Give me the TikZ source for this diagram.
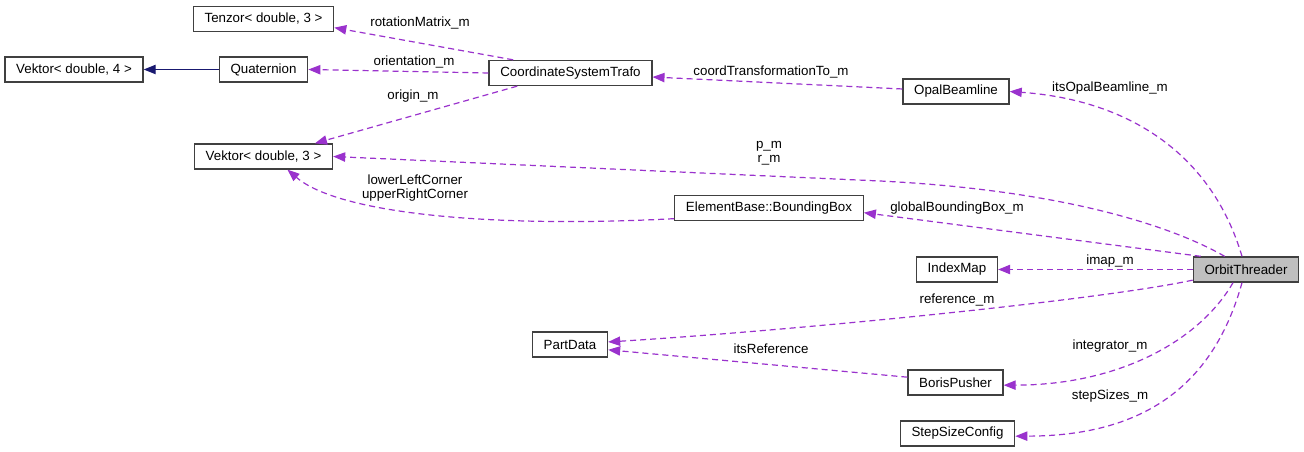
\documentclass[tikz,border=0pt]{standalone}
\usepackage{fontspec}
\setmainfont{Liberation Sans}
\usetikzlibrary{arrows.meta, positioning}
\definecolor{memberpurple}{HTML}{9A32CD}
\definecolor{basenavy}{HTML}{191970}

\begin{document}
\begin{tikzpicture}[
  x=0.75pt, y=-0.75pt,
  box/.style={rectangle, draw=black!75, line width=1pt, minimum height=18.75pt, inner xsep=8.4pt, inner ysep=2pt, font=\fontsize{10}{12}\selectfont, fill=white},
  curbox/.style={box, fill=black!25},
  uses/.style={-{Triangle[length=9pt, width=7pt]}, color=memberpurple, line width=0.9pt, dash pattern=on 4.5pt off 3pt},
  inherits/.style={-{Triangle[length=9pt, width=7pt]}, color=basenavy, line width=0.9pt},
  lbl/.style={font=\fontsize{10}{10.5}\selectfont, align=center, inner sep=0pt},
]
\fill[white] (0,0) rectangle (1304,452);
\useasboundingbox (0,0) rectangle (1304,452);

% classes
\node[curbox] (orbit) at (1246,269.5) {OrbitThreader};
\node[box] (opal) at (956,91.5) {OpalBeamline};
\node[box] (trafo) at (570.5,73) {CoordinateSystemTrafo};
\node[box] (tenzor) at (263.5,19) {Tenzor< double, 3 >};
\node[box] (quat) at (263.5,69.5) {Quaternion};
\node[box] (vek4) at (74,69.5) {Vektor< double, 4 >};
\node[box] (vek3) at (263.5,156.5) {Vektor< double, 3 >};
\node[box] (bbox) at (769,208) {ElementBase::BoundingBox};
\node[box] (imap) at (957,269.5) {IndexMap};
\node[box] (part) at (570,344.5) {PartData};
\node[box] (boris) at (955.5,382.5) {BorisPusher};
\node[box] (steps) at (957.5,433.5) {StepSizeConfig};

% upper part
\draw[uses] ([xshift=-43pt]trafo.north) -- ([yshift=-6.5pt]tenzor.east);
\node[lbl] (lrot) at (420,23) {rotationMatrix\_m};
\draw[uses] (trafo.west) -- (quat.east);
\node[lbl] (lori) at (414,62) {orientation\_m};
\draw[inherits] (quat.west) -- (vek4.east);
\draw[uses] ([xshift=-40pt]trafo.south) -- ([xshift=38.6pt]vek3.north);
\node[lbl] (lorig) at (413,96) {origin\_m};
\draw[uses] ([yshift=1.9pt]opal.west) -- ([yshift=-3pt]trafo.east);
\node[lbl] (lcoord) at (771,72) {coordTransformationTo\_m};
\draw[uses] ([xshift=-3pt]orbit.north) .. controls (1212,155) and (1130,100) .. (opal.east);
\node[lbl] (lopal) at (1110,88) {itsOpalBeamline\_m};

% middle part
\draw[uses] ([xshift=-16pt]orbit.north) .. controls (1170,225) and (1060,190) .. (880,181) -- (vek3.east);
\node[lbl] (lpr) at (769,153) {p\_m\\r\_m};
\draw[uses] ([yshift=-8pt]bbox.west) .. controls (500,228) and (340,215) .. ([xshift=18pt]vek3.south);
\node[lbl] (lcorner) at (415,188) {lowerLeftCorner\\upperRightCorner};
\draw[uses] ([xshift=-34pt]orbit.north) -- ([yshift=-3.5pt]bbox.east);
\node[lbl] (lglob) at (957,208) {globalBoundingBox\_m};
\draw[uses] (orbit.west) -- (imap.east);
\node[lbl] (limap) at (1110,261) {imap\_m};

% lower part
\draw[uses] ([yshift=-8pt]orbit.west) .. controls (1100,300) and (800,330) .. ([yshift=1.9pt]part.east);
\node[lbl] (lref) at (957,300) {reference\_m};
\draw[uses] ([yshift=4pt]boris.west) -- ([yshift=-4pt]part.east);
\node[lbl] (litsref) at (771,349) {itsReference};
\draw[uses] ([xshift=-9.75pt]orbit.south) .. controls (1200,340) and (1120,385) .. ([yshift=-2pt]boris.east);
\node[lbl] (linteg) at (1110,346) {integrator\_m};
\draw[uses] ([xshift=-3pt]orbit.south) .. controls (1215,380) and (1150,436) .. ([yshift=-2pt]steps.east);
\node[lbl] (lsteps) at (1110,396) {stepSizes\_m};

\end{tikzpicture}
\end{document}
